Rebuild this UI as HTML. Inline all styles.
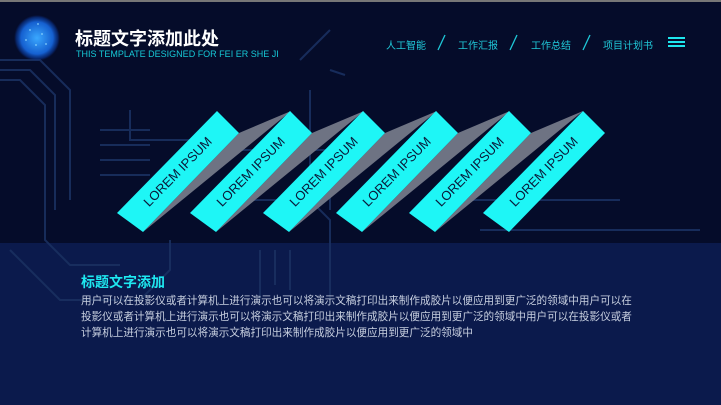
<!DOCTYPE html>
<html><head><meta charset="utf-8"><style>
html,body{margin:0;padding:0}
body{width:721px;height:405px;overflow:hidden;background:#050c2a;position:relative;font-family:"Liberation Sans","Noto Sans CJK SC",sans-serif}
.t{position:absolute;white-space:nowrap}
</style></head><body>
<svg width="721" height="405" style="position:absolute;left:0;top:0">
<defs>
<radialGradient id="g" cx="50%" cy="50%" r="50%"><stop offset="0" stop-color="#3aa8ff"/><stop offset="0.7" stop-color="#1560d0"/><stop offset="0.9" stop-color="#0a3a9a" stop-opacity="0.6"/><stop offset="1" stop-color="#0a2a80" stop-opacity="0"/></radialGradient>
</defs>
<rect x="0" y="0" width="721" height="2" fill="#777"/>
<rect x="0" y="243" width="721" height="162" fill="#0b1a4c"/>
<g fill="none" stroke="#1a3060" stroke-width="2" opacity="0.9">
<path d="M0 60 H40 L70 90 V200"/><path d="M0 70 H30 L55 95 V210"/><path d="M0 80 H20 L45 105 V240 L70 265 H120"/>
<path d="M130 110 V140 H200 M100 130 H150 M100 145 H150 M100 160 H150 M100 175 H150"/>
<path d="M300 60 L330 30 M330 70 L345 75 M310 90 V200 L330 220 V300"/>
<path d="M240 150 H330 V210 M250 200 H300"/>
<path d="M10 250 L60 300 H140 L170 270 V240"/>
<path d="M260 250 V300 M275 250 V285 M290 250 V290"/>
<path d="M450 200 H620 M480 230 H700"/>
</g>
<circle cx="37" cy="38" r="23" fill="url(#g)"/>
<g fill="#8fd8ff" opacity="0.7"><circle cx="30" cy="30" r="1"/><circle cx="42" cy="34" r="1"/><circle cx="36" cy="45" r="1"/><circle cx="26" cy="40" r="1"/><circle cx="46" cy="44" r="1"/><circle cx="38" cy="24" r="1"/></g>
<g id="b">
<polygon points="239,133 291,111 143,232" fill="#6e7383"/>
<polygon points="117,213 217,111 239,133 143,232" fill="#1ef6f6"/>
<text x="178" y="176" transform="rotate(-45.6 178 172)" text-anchor="middle" font-size="13" fill="#0a1a3a" font-family="Liberation Sans,sans-serif">LOREM IPSUM</text>
</g>
<use href="#b" x="73"/><use href="#b" x="146"/><use href="#b" x="219"/><use href="#b" x="292"/>
<polygon points="483,213 583,111 605,133 509,232" fill="#1ef6f6"/>
<text x="544" y="176" transform="rotate(-45.6 544 172)" text-anchor="middle" font-size="13" fill="#0a1a3a" font-family="Liberation Sans,sans-serif">LOREM IPSUM</text>
<g stroke="#1fc8d8" stroke-width="1.3"><line x1="445" y1="35" x2="438" y2="50"/><line x1="517" y1="35" x2="510" y2="50"/><line x1="590" y1="35" x2="583" y2="50"/></g>
<g stroke="#1ee6ee" stroke-width="2"><line x1="668" y1="38" x2="685" y2="38"/><line x1="668" y1="42" x2="685" y2="42"/><line x1="668" y1="46" x2="685" y2="46"/></g>
</svg>
<div class="t" style="left:75px;top:25px;font-size:18px;color:#fff;font-weight:bold">标题文字添加此处</div>
<div class="t" style="left:76px;top:49px;font-size:9px;color:#16c8d6">THIS TEMPLATE DESIGNED FOR FEI ER SHE JI</div>
<div class="t" style="left:386px;top:37px;font-size:10px;color:#20c8d8">人工智能</div>
<div class="t" style="left:458px;top:37px;font-size:10px;color:#20c8d8">工作汇报</div>
<div class="t" style="left:531px;top:37px;font-size:10px;color:#20c8d8">工作总结</div>
<div class="t" style="left:603px;top:37px;font-size:10px;color:#20c8d8">项目计划书</div>
<div class="t" style="left:81px;top:272px;font-size:14px;color:#1ee8f0;font-weight:bold">标题文字添加</div>
<div class="t" style="left:81px;top:293px;font-size:10.6px;line-height:16px;color:#c8d0e0">用户可以在投影仪或者计算机上进行演示也可以将演示文稿打印出来制作成胶片以便应用到更广泛的领域中用户可以在<br>投影仪或者计算机上进行演示也可以将演示文稿打印出来制作成胶片以便应用到更广泛的领域中用户可以在投影仪或者<br>计算机上进行演示也可以将演示文稿打印出来制作成胶片以便应用到更广泛的领域中</div>
</body></html>
